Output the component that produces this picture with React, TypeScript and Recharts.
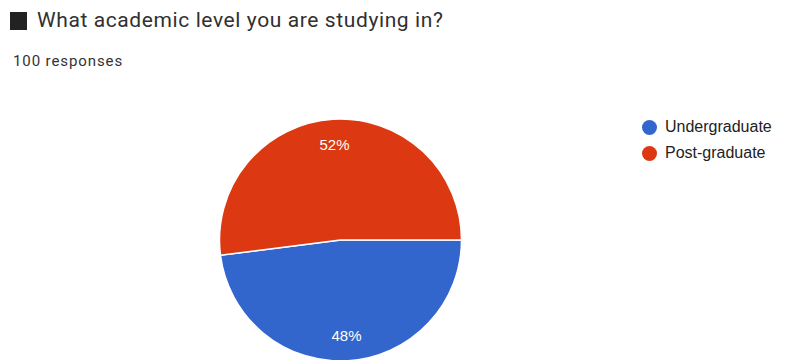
import { Legend, Pie, PieChart } from "recharts"

const categories = ["Undergraduate", "Post-graduate"]
const counts = [48, 52]
const colors = ["#3366cc", "#dc3912"]

const data = categories.map((name, i) => ({ name, value: counts[i], fill: colors[i] }))
const total = counts.reduce((a, b) => a + b, 0)

const RADIAN = Math.PI / 180

function renderLabel(props: any) {
    const { cx, cy, midAngle, outerRadius, value } = props
    const r = outerRadius * 0.79
    const x = cx + r * Math.cos(-midAngle * RADIAN)
    const y = cy + r * Math.sin(-midAngle * RADIAN)
    return (
        <text
            x={x}
            y={y}
            fill="#ffffff"
            textAnchor="middle"
            dominantBaseline="central"
            fontSize={15}
            fontFamily="Arial, 'Liberation Sans', sans-serif"
        >
            {`${Math.round((value / total) * 100)}%`}
        </text>
    )
}

function LegendContent() {
    return (
        <div style={{ fontFamily: "Arial, 'Liberation Sans', sans-serif", fontSize: 16, color: "#222" }}>
            {data.map((d) => (
                <div key={d.name} style={{ display: "flex", alignItems: "center", height: 26 }}>
                    <span
                        style={{
                            width: 15,
                            height: 15,
                            borderRadius: "50%",
                            background: d.fill,
                            display: "inline-block",
                            marginRight: 8,
                        }}
                    />
                    {d.name}
                </div>
            ))}
        </div>
    )
}

export default function App() {
    return (
        <div
            style={{
                position: "fixed",
                left: 0,
                top: 0,
                width: 812,
                height: 360,
                background: "#fff",
                overflow: "hidden",
                fontFamily: "Roboto, sans-serif",
            }}
        >
            <div style={{ position: "absolute", left: 10, top: 12, width: 17, height: 18, background: "#222" }} />
            <div
                style={{
                    position: "absolute",
                    left: 37,
                    top: 8,
                    fontSize: 21,
                    letterSpacing: 0.6,
                    color: "#303030",
                    whiteSpace: "nowrap",
                }}
            >
                What academic level you are studying in?
            </div>
            <div
                style={{
                    position: "absolute",
                    left: 13,
                    top: 52,
                    fontSize: 15,
                    letterSpacing: 0.9,
                    color: "#333",
                    whiteSpace: "nowrap",
                }}
            >
                100 responses
            </div>
            <div style={{ position: "absolute", left: 0, top: 0 }}>
                <PieChart width={812} height={360} margin={{ top: 0, right: 0, bottom: 0, left: 0 }}>
                    <Pie
                        data={data}
                        dataKey="value"
                        nameKey="name"
                        cx={340.5}
                        cy={240}
                        outerRadius={121}
                        startAngle={0}
                        endAngle={-360}
                        stroke="#ffffff"
                        strokeWidth={1.5}
                        label={renderLabel}
                        labelLine={false}
                        isAnimationActive={false}
                    />
                    <Legend
                        layout="vertical"
                        verticalAlign="top"
                        align="right"
                        content={<LegendContent />}
                        wrapperStyle={{ left: 642, top: 114, width: 160 }}
                    />
                </PieChart>
            </div>
        </div>
    )
}
